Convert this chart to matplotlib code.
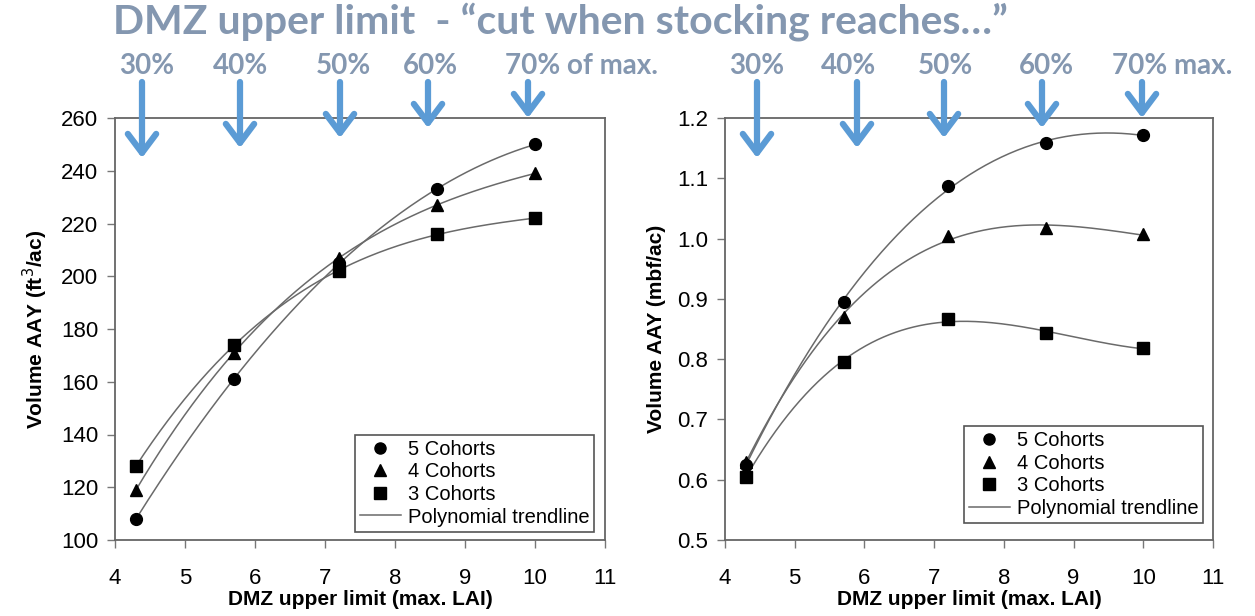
import numpy as np
import matplotlib
matplotlib.use("Agg")
import matplotlib.pyplot as plt
from matplotlib.lines import Line2D

plt.rcParams['font.family'] = ['Liberation Sans', 'DejaVu Sans']

# x values (max. LAI)
lai = [4.3, 5.7, 7.2, 8.6, 10.0]

# left panel: cubic feet per acre
cuft_5 = [108, 161, 205, 233, 250]
cuft_4 = [119, 171, 207, 227, 239]
cuft_3 = [128, 174, 202, 216, 222]

# right panel: mbf per acre
mbf_5 = [0.625, 0.895, 1.087, 1.158, 1.172]
mbf_4 = [0.630, 0.870, 1.005, 1.017, 1.007]
mbf_3 = [0.605, 0.795, 0.867, 0.843, 0.818]

left_pcts = ['30%', '40%', '50%', '60%', '70% of max.']
right_pcts = ['30%', '40%', '50%', '60%', '70% max.']

title_col = '#8497b0'
arrow_col = '#5b9bd5'
W, H = 1255, 616

fig = plt.figure(figsize=(W / 100, H / 100), dpi=100)
ax1 = fig.add_axes([115 / W, 76 / H, 490 / W, 422 / H])
ax2 = fig.add_axes([725 / W, 76 / H, 488 / W, 422 / H])


def draw_panel(ax, ys, order, ylim, yticks, yfmt, ylabel, leg_box):
    xs = np.linspace(min(lai), max(lai), 200)
    for y in ys:
        c = np.polyfit(lai, y, order)
        ax.plot(xs, np.polyval(c, xs), color='#6a6a6a', lw=1.1, zorder=2)
    mk = [('o', 8.5), ('^', 8.5), ('s', 9)]
    for y, (m, s) in zip(ys, mk):
        ax.plot(lai, y, m, color='black', ms=s, zorder=3)
    ax.set_xlim(4, 11)
    ax.set_ylim(*ylim)
    ax.set_xticks(range(4, 12))
    ax.set_yticks(yticks)
    ax.set_yticklabels([yfmt.format(v) for v in yticks])
    ax.tick_params(direction='out', length=6, width=1, color='#777777',
                   labelsize=16, pad=6)
    ax.tick_params(axis='x', pad=14)
    for sp in ax.spines.values():
        sp.set_color('#666666')
        sp.set_linewidth(1.3)
    ax.set_xlabel('DMZ upper limit (max. LAI)', fontsize=15, fontweight='bold',
                  labelpad=1)
    ax.set_ylabel(ylabel, fontsize=15, fontweight='bold', labelpad=8)
    handles = [Line2D([], [], ls='none', marker='o', color='black', ms=8),
               Line2D([], [], ls='none', marker='^', color='black', ms=8),
               Line2D([], [], ls='none', marker='s', color='black', ms=8),
               Line2D([], [], color='#6a6a6a', lw=1.1)]
    lg = ax.legend(handles, ['5 Cohorts', '4 Cohorts', '3 Cohorts',
                             'Polynomial trendline'],
                   loc='lower right', fontsize=14.5, fancybox=False,
                   framealpha=1, edgecolor='#555555', borderpad=0.25,
                   labelspacing=0.18, handlelength=2.0, handletextpad=0.35,
                   borderaxespad=0, bbox_to_anchor=leg_box)
    lg.get_frame().set_linewidth(1.2)


draw_panel(ax1, [cuft_5, cuft_4, cuft_3], 3, (100, 260), range(100, 261, 20),
           '{:d}', 'Volume AAY (ft$^3$/ac)', (0.978, 0.02))
draw_panel(ax2, [mbf_5, mbf_4, mbf_3], 3, (0.5, 1.2),
           [0.5, 0.6, 0.7, 0.8, 0.9, 1.0, 1.1, 1.2], '{:.1f}',
           'Volume AAY (mbf/ac)', (0.98, 0.04))

# title and stocking arrows
fig.text(113 / W, 1 - 22 / H, 'DMZ upper limit  - \u201ccut when stocking reaches\u2026\u201d',
         fontsize=29.5, fontweight='bold', color=title_col, family='Lato',
         va='center', ha='left')

arrow_x = [[142, 240, 340, 428, 528], [757, 857, 944, 1042, 1142]]
tips = [158, 148, 138, 128, 118]
label_x = [[147, 241, 343, 430, 505], [757, 849, 945, 1046, 1112]]
for xs_, lx, labs in zip(arrow_x, label_x, [left_pcts, right_pcts]):
    for i, (x, t) in enumerate(zip(xs_, tips)):
        fig.patches.append(matplotlib.patches.FancyArrowPatch(
            (x / W, 1 - 82 / H), (x / W, 1 - t / H), transform=fig.transFigure,
            arrowstyle='->,head_length=8,head_width=6', color=arrow_col,
            lw=4.5, mutation_scale=1.7, shrinkA=0, shrinkB=0))
        ha = 'left' if i == 4 else 'center'
        fig.text(lx[i] / W, 1 - 66 / H, labs[i], fontsize=20, fontweight='bold',
                 color=title_col, family='Lato', ha=ha, va='center')

fig.savefig('out.png', dpi=100)
